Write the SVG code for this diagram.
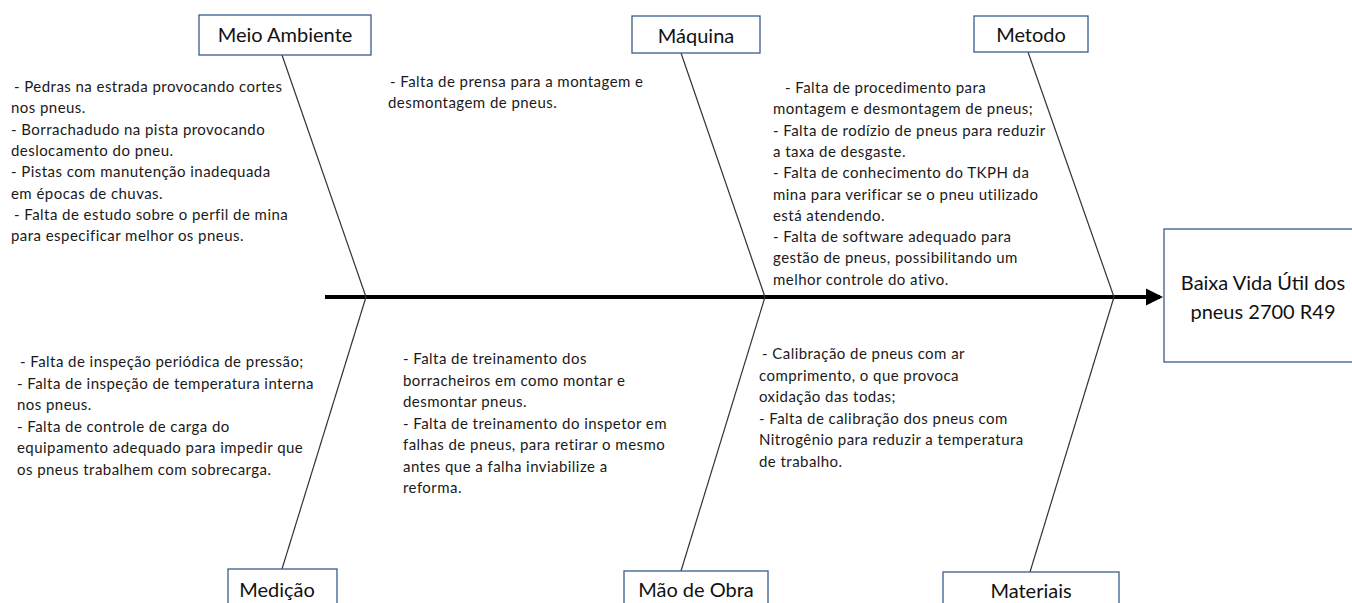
<svg xmlns="http://www.w3.org/2000/svg" width="1352" height="603" viewBox="0 0 1352 603">
<style>
.box{fill:#fff;stroke:#385D8A;stroke-width:1.3}
.lbl{font-family:Lato,"Liberation Sans",sans-serif;font-size:20px;fill:#111;text-anchor:middle}
.txt{font-family:Lato,"Liberation Sans",sans-serif;font-size:15px;letter-spacing:0.45px;fill:#1a1a1a}
.bone{stroke:#333;stroke-width:1.2;fill:none}
</style>
<defs>
<marker id="ah" markerWidth="4.4" markerHeight="4.4" refX="3.6" refY="2.2" orient="auto" markerUnits="strokeWidth">
<path d="M0,0 L4.4,2.2 L0,4.4 Z" fill="#000"/>
</marker>
</defs>
<rect width="1352" height="603" fill="#fff"/>
<g id="connectors">
<line x1="325" y1="297" x2="1160" y2="297" stroke="#000" stroke-width="4" marker-end="url(#ah)"/>
<line class="bone" x1="282" y1="55" x2="366" y2="297"/>
<line class="bone" x1="366" y1="297" x2="282" y2="569"/>
<line class="bone" x1="681" y1="53" x2="765" y2="297"/>
<line class="bone" x1="765" y1="297" x2="681" y2="571"/>
<line class="bone" x1="1028" y1="52" x2="1114" y2="297"/>
<line class="bone" x1="1114" y1="297" x2="1030" y2="572"/>
</g>
<g id="meio-ambiente">
<rect class="box" x="199" y="15" width="172" height="40"/>
<text class="lbl" x="285" y="42">Meio Ambiente</text>
</g>
<g id="maquina">
<rect class="box" x="632" y="16" width="128" height="37"/>
<text class="lbl" x="696" y="43">Máquina</text>
</g>
<g id="metodo">
<rect class="box" x="974" y="16" width="114" height="36"/>
<text class="lbl" x="1031" y="42">Metodo</text>
</g>
<g id="efeito">
<rect class="box" x="1164" y="229" width="192" height="133"/>
<text class="lbl" x="1263" y="290">Baixa Vida Útil dos</text>
<text class="lbl" x="1263" y="319">pneus 2700 R49</text>
</g>
<g id="medicao">
<rect class="box" x="228" y="569" width="109" height="40"/>
<text class="lbl" x="277" y="597">Medição</text>
</g>
<g id="mao-de-obra">
<rect class="box" x="624" y="571" width="144" height="40"/>
<text class="lbl" x="696" y="597">Mão de Obra</text>
</g>
<g id="materiais">
<rect class="box" x="943" y="572" width="176" height="40"/>
<text class="lbl" x="1031" y="598">Materiais</text>
</g>
<g id="causas-meio-ambiente">
<text class="txt">
<tspan x="14" y="92">- Pedras na estrada provocando cortes</tspan>
<tspan x="11" y="113.3">nos pneus.</tspan>
<tspan x="11" y="134.6">- Borrachadudo na pista provocando</tspan>
<tspan x="11" y="155.9">deslocamento do pneu.</tspan>
<tspan x="11" y="177.2">- Pistas com manutenção inadequada</tspan>
<tspan x="11" y="198.5">em épocas de chuvas.</tspan>
<tspan x="14" y="219.8">- Falta de estudo sobre o perfil de mina</tspan>
<tspan x="11" y="241.1">para especificar melhor os pneus.</tspan>
</text>
</g>
<g id="causas-maquina">
<text class="txt">
<tspan x="390" y="87">- Falta de prensa para a montagem e</tspan>
<tspan x="388" y="108.3">desmontagem de pneus.</tspan>
</text>
</g>
<g id="causas-metodo">
<text class="txt">
<tspan x="785" y="93">- Falta de procedimento para</tspan>
<tspan x="773" y="114.3">montagem e desmontagem de pneus;</tspan>
<tspan x="773" y="135.6">- Falta de rodízio de pneus para reduzir</tspan>
<tspan x="773" y="156.9">a taxa de desgaste.</tspan>
<tspan x="773" y="178.2">- Falta de conhecimento do TKPH da</tspan>
<tspan x="773" y="199.5">mina para verificar se o pneu utilizado</tspan>
<tspan x="773" y="220.8">está atendendo.</tspan>
<tspan x="773" y="242.1">- Falta de software adequado para</tspan>
<tspan x="773" y="263.4">gestão de pneus, possibilitando um</tspan>
<tspan x="773" y="284.7">melhor controle do ativo.</tspan>
</text>
</g>
<g id="causas-medicao">
<text class="txt">
<tspan x="20" y="367">- Falta de  inspeção periódica de pressão;</tspan>
<tspan x="17" y="388.5">- Falta de inspeção de temperatura  interna</tspan>
<tspan x="17" y="410">nos pneus.</tspan>
<tspan x="17" y="431.5">- Falta de  controle de carga do</tspan>
<tspan x="17" y="453">equipamento adequado para impedir que</tspan>
<tspan x="17" y="474.5">os pneus trabalhem com sobrecarga.</tspan>
</text>
</g>
<g id="causas-mao-de-obra">
<text class="txt">
<tspan x="403" y="364">- Falta de treinamento dos</tspan>
<tspan x="403" y="385.5">borracheiros em como montar e</tspan>
<tspan x="403" y="407">desmontar pneus.</tspan>
<tspan x="403" y="428.5">- Falta de treinamento do inspetor em</tspan>
<tspan x="403" y="450">falhas de pneus, para retirar  o mesmo</tspan>
<tspan x="403" y="471.5">antes que a falha inviabilize  a</tspan>
<tspan x="403" y="493">reforma.</tspan>
</text>
</g>
<g id="causas-materiais">
<text class="txt">
<tspan x="762" y="359">- Calibração  de pneus com ar</tspan>
<tspan x="759" y="380.5">comprimento, o que provoca</tspan>
<tspan x="759" y="402">oxidação das todas;</tspan>
<tspan x="759" y="423.5">- Falta de calibração  dos pneus com</tspan>
<tspan x="759" y="445">Nitrogênio para reduzir a temperatura</tspan>
<tspan x="759" y="466.5">de trabalho.</tspan>
</text>
</g>
</svg>
